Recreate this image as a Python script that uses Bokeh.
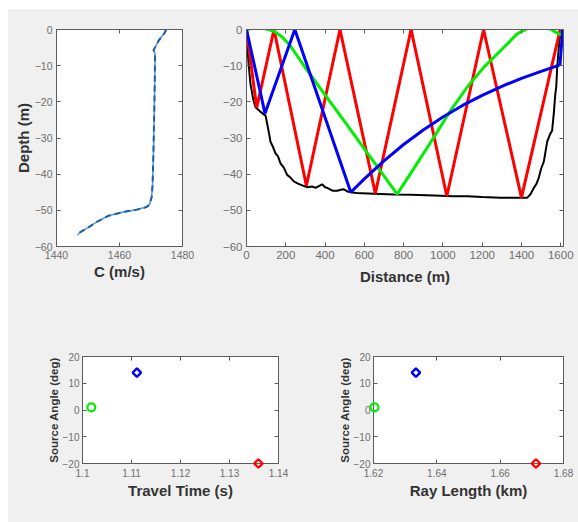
import numpy as np
from bokeh.plotting import figure
from bokeh.layouts import row, column
from bokeh.models import Range1d, FixedTicker, LinearAxis, NumeralTickFormatter
from bokeh.embed import file_html
from bokeh.resources import INLINE

# ---------------- data ----------------
speed_c = [1474.8, 1474.3, 1472.5, 1470.8, 1471.3, 1471.1, 1470.8, 1470.5, 1470.2,
           1469.6, 1468.6, 1465.5, 1461.0, 1456.5, 1452.8, 1449.6, 1447.6, 1446.6]
speed_depth = [0, -1, -3, -5.7, -6.8, -20, -33, -43, -46.3,
               -48.3, -49.1, -49.8, -50.5, -51.5, -53.2, -55, -56, -56.9]

bathy_range = [0, 5, 10, 20, 35, 46, 70, 97, 105, 115, 122, 135, 148, 160, 173, 190, 207,
               225, 241, 262, 284, 310, 334, 352, 368, 385, 400, 411, 440, 462, 480, 496,
               515, 530, 560, 649, 750, 835, 955, 1050, 1125, 1200, 1294, 1380, 1430, 1445,
               1463, 1475, 1488, 1500, 1514, 1531, 1545, 1556, 1565, 1572, 1577, 1582, 1590,
               1596, 1603]
bathy_depth = [0, -5, -9, -15, -19.5, -21.5, -22.7, -23.8, -26, -28.8, -31, -32.5, -34.3,
               -35, -37, -38.2, -40.2, -41, -42, -42.6, -43.1, -43.6, -43.4, -43.8, -43.3,
               -42.8, -43.6, -43.8, -44.6, -44.6, -44.3, -44.2, -44.8, -45, -45.2, -45.4,
               -45.6, -45.7, -45.9, -46.1, -46.1, -46.3, -46.5, -46.5, -46.5, -45.6, -43.8,
               -42.8, -41, -38.5, -36.5, -31, -29, -28, -23, -18, -15.9, -10.4, -5, -2, 0]

red_range = [0, 52, 140, 305, 476, 656, 838, 1020, 1207, 1400, 1597, 1611]
red_depth = [0, -21.7, 0, -43.2, 0, -45.3, 0, -46.1, 0, -46.5, 0, -1.2]

green_range = [0, 30, 60, 100, 140, 180, 220, 260, 300, 400, 500, 600, 700, 767,
               850, 954, 1039, 1124, 1209, 1294, 1378, 1429, 1497, 1550, 1582, 1608]
green_depth = [0, 0.25, 0.35, 0.2, -0.5, -2, -4.3, -7.4, -10.6, -18.1, -25.5, -33, -40.5,
               -45.5, -38.6, -29.8, -22.4, -15.9, -10.4, -5.8, -1.2, 0.2, 0.5, 0.1, -1.0, -1.6]

blue_range = [0, 94, 246, 531, 600, 700, 800, 900, 1000, 1100, 1200, 1300, 1400, 1500, 1596, 1610]
blue_depth = [0, -23.2, 0, -45, -41.3, -36.3, -31.8, -27.8, -24.2, -21, -18.2, -15.7, -13.5,
              -11.6, -9.8, 0]

# arrival table: red, green, blue
travel_time = [1.1359, 1.1018, 1.1111]
ray_length = [1.6713, 1.6203, 1.6334]
source_angle = [-20, 1, 14]

speed_ticks = [1440, 1460, 1480]
depth_ticks = [-60, -50, -40, -30, -20, -10, 0]
range_ticks = [0, 200, 400, 600, 800, 1000, 1200, 1400, 1600]
angle_ticks = [-20, -10, 0, 10, 20]
time_ticks = [1.1, 1.11, 1.12, 1.13, 1.14]
length_ticks = [1.62, 1.64, 1.66, 1.68]

# ---------------- styling ----------------
BG = "#f0f0f0"
FONT = "Liberation Sans"
AX_COLOR = "#5c5c5c"
TICK_TEXT = "#6e6e6e"
LABEL_TEXT = "#333333"
ray_colors = ["#ff0000", "#00ee00", "#0000ff"]


def make_fig(w, h, xr, yr, left, right, top, bottom):
    p = figure(width=w, height=h, x_range=Range1d(*xr), y_range=Range1d(*yr),
               output_backend="svg", toolbar_location=None,
               min_border_left=left, min_border_right=right,
               min_border_top=top, min_border_bottom=bottom,
               background_fill_color="white", border_fill_color=BG,
               styles={"background-color": BG})
    p.grid.visible = False
    p.outline_line_color = None
    return p


def style(ax, ticks, size, label=None, label_size="15px", standoff=4, lstandoff=2, fmt=None):
    ax.ticker = FixedTicker(ticks=ticks)
    ax.axis_line_color = AX_COLOR
    ax.major_tick_line_color = AX_COLOR
    ax.major_tick_in = 4
    ax.major_tick_out = 0
    ax.minor_tick_line_color = None
    ax.major_label_text_font = FONT
    ax.major_label_text_font_size = size
    ax.major_label_text_color = TICK_TEXT
    ax.major_label_standoff = standoff
    if fmt is not None:
        ax.formatter = fmt
    if label:
        ax.axis_label = label
        ax.axis_label_text_font = FONT
        ax.axis_label_text_font_size = label_size
        ax.axis_label_text_font_style = "bold"
        ax.axis_label_text_color = LABEL_TEXT
        ax.axis_label_standoff = lstandoff


def mirror(p, xticks, yticks):
    # box axes on top / right with inward ticks only (no labels)
    for loc, ticks in (("above", xticks), ("right", yticks)):
        ax = LinearAxis(ticker=FixedTicker(ticks=ticks))
        ax.axis_line_color = AX_COLOR
        ax.major_tick_line_color = AX_COLOR
        ax.major_tick_in = 4
        ax.major_tick_out = 0
        ax.minor_tick_line_color = None
        ax.major_label_text_color = None
        ax.major_label_text_font_size = "1px"
        ax.major_label_standoff = 0
        p.add_layout(ax, loc)


# ---- top-left: sound speed profile ----
p1 = make_fig(192, 311, (1440, 1480), (-60, 0), 48, 18, 20, 74)
p1.line(speed_c, speed_depth, line_color="#5b9bd5", line_width=1.6)
p1.line(speed_c, speed_depth, line_color="#1f5fa6", line_width=2, line_dash="6 4")
style(p1.xaxis[0], speed_ticks, "10.5px", "C (m/s)", "15px", 4, 1)
style(p1.yaxis[0], depth_ticks, "10.5px", "Depth (m)", "15px", 4, 0)
mirror(p1, speed_ticks, depth_ticks)

# ---- top-right: ray paths ----
p2 = make_fig(378, 311, (0, 1614), (-60, 0), 46, 15, 20, 74)
p2.line(bathy_range, bathy_depth, line_color="black", line_width=2)
p2.line(red_range, red_depth, line_color=ray_colors[0], line_width=3)
p2.line(green_range, green_depth, line_color=ray_colors[1], line_width=3)
p2.line(blue_range, blue_depth, line_color=ray_colors[2], line_width=3)
style(p2.xaxis[0], range_ticks, "11.5px", "Distance (m)", "15px", 4, 6)
style(p2.yaxis[0], depth_ticks, "11.5px", None)
mirror(p2, range_ticks, depth_ticks)


def arrivals(p, xs):
    # red, green, blue
    p.scatter([xs[0]], [source_angle[0]], marker="square", angle=np.pi / 4, size=6,
              line_color=ray_colors[0], fill_color=None, line_width=2.4, level="overlay")
    p.scatter([xs[1]], [source_angle[1]], marker="circle", size=8,
              line_color=ray_colors[1], fill_color=None, line_width=2.2, level="overlay")
    p.scatter([xs[2]], [source_angle[2]], marker="square", angle=np.pi / 4, size=6,
              line_color=ray_colors[2], fill_color=None, line_width=2.4, level="overlay")


# ---- bottom-left: travel time ----
p3 = make_fig(282, 202, (1.1, 1.14), (-20, 20), 74, 12, 36, 59)
arrivals(p3, travel_time)
style(p3.xaxis[0], time_ticks, "10px", "Travel Time (s)", "15px", 5, 2,
      NumeralTickFormatter(format="0.[00]"))
style(p3.yaxis[0], angle_ticks, "10px", "Source Angle (deg)", "11.5px", 3, 0)
mirror(p3, time_ticks, angle_ticks)

# ---- bottom-right: ray length ----
p4 = make_fig(288, 202, (1.62, 1.68), (-20, 20), 83, 15, 36, 59)
arrivals(p4, ray_length)
style(p4.xaxis[0], length_ticks, "10px", "Ray Length (km)", "15px", 5, 2,
      NumeralTickFormatter(format="0.[00]"))
style(p4.yaxis[0], angle_ticks, "10px", "Source Angle (deg)", "11.5px", 3, 0)
mirror(p4, length_ticks, angle_ticks)

top_row = row(p1, p2, styles={"background-color": BG})
bottom_row = row(p3, p4, styles={"background-color": BG})
layout = column(top_row, bottom_row, margin=(9, 0, 0, 8), styles={"background-color": BG})

open("out.html", "w").write(file_html(layout, INLINE))
